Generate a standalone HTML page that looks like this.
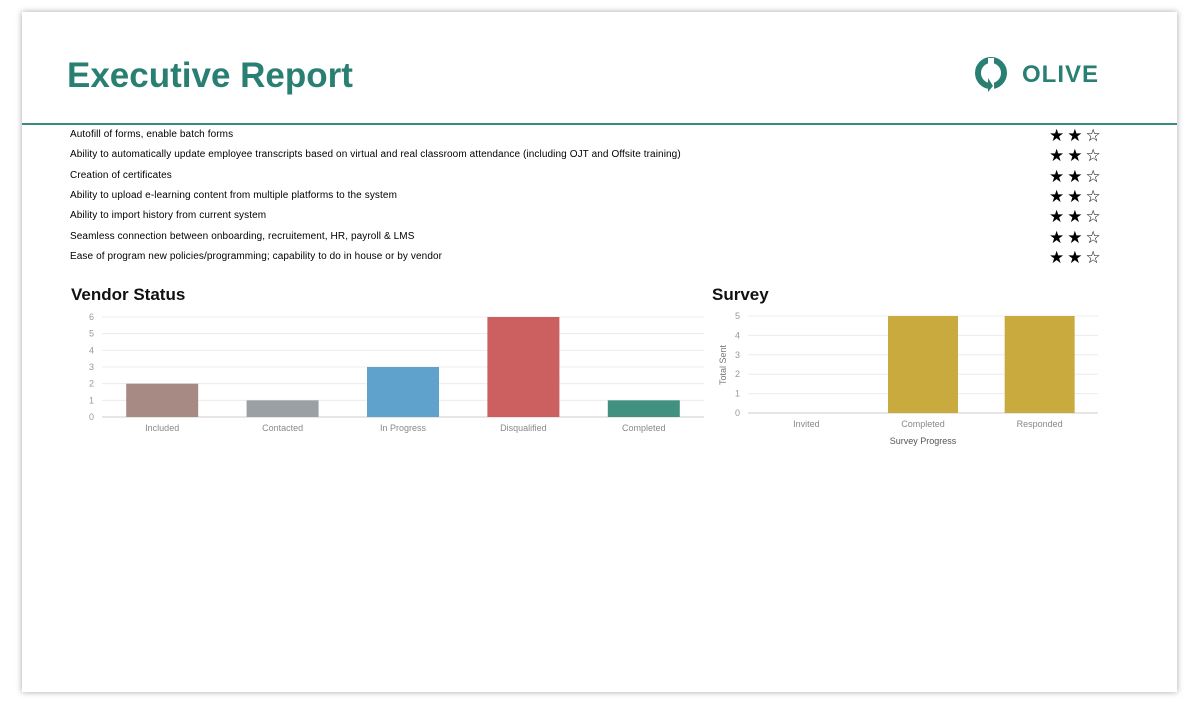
<!DOCTYPE html>
<html><head><meta charset="utf-8"><style>
body{margin:0;width:1200px;height:705px;background:#fff;font-family:"Liberation Sans",sans-serif;position:relative;overflow:hidden}
.card{position:absolute;left:22px;top:12px;width:1155px;height:680px;background:#fff;box-shadow:0 0 6px rgba(0,0,0,.35)}
h1{position:absolute;left:67px;top:56px;margin:0;font-size:35px;color:#2a7f73;font-weight:bold}
.hr{position:absolute;left:22px;top:123px;width:1155px;height:2px;background:#3a8a80}
.row{position:absolute;left:70px;font-size:10px;color:#000;letter-spacing:0.1px}
.stars{position:absolute;left:1049px;font-size:17px;letter-spacing:3px;line-height:17px}
.ct{position:absolute;font-size:17px;font-weight:bold;color:#111}
</style></head><body>
<div class="card"></div>
<h1>Executive Report</h1>
<div style="position:absolute;left:974px;top:56px">
<svg width="140" height="38"><circle cx="17" cy="17" r="13" fill="none" stroke="#2a7f73" stroke-width="6"/><rect x="14" y="2" width="6" height="34" fill="#fff"/><path d="M14 22 L14 36 L19 30Z" fill="#2a7f73"/><text x="48" y="26" font-family="Liberation Sans" font-weight="bold" font-size="24" fill="#2a7f73" letter-spacing="1">OLIVE</text></svg></div>
<div class="hr"></div>
<div id="rows"></div>
<div class="ct" style="left:71px;top:285px">Vendor Status</div>
<div class="ct" style="left:712px;top:285px">Survey</div>
<svg id="v" style="position:absolute;left:0;top:0" width="1200" height="705"></svg>
<script>
const features=["Autofill of forms, enable batch forms","Ability to automatically update employee transcripts based on virtual and real classroom attendance (including OJT and Offsite training)","Creation of certificates","Ability to upload e-learning content from multiple platforms to the system","Ability to import history from current system","Seamless connection between onboarding, recruitement, HR, payroll & LMS","Ease of program new policies/programming; capability to do in house or by vendor"];
const ratings=[2,2,2,2,2,2,2];
const vendorCats=["Included","Contacted","In Progress","Disqualified","Completed"];
const vendorVals=[2,1,3,6,1];
const vendorColors=["#a88a84","#9aa0a3","#5fa2cc","#cc5f5f","#42907f"];
const vendorTicks=[0,1,2,3,4,5,6];
const surveyCats=["Invited","Completed","Responded"];
const surveyVals=[0,5,5];
const surveyTicks=[0,1,2,3,4,5];
const R=document.getElementById('rows');
features.forEach((f,i)=>{const y=129+i*20.3;
const d=document.createElement('div');d.className='row';d.style.top=y+'px';d.textContent=f;

R.appendChild(d);
const s=document.createElement('div');s.className='stars';s.style.top=(y-2)+'px';s.textContent='★'.repeat(ratings[i])+'☆'.repeat(3-ratings[i]);

R.appendChild(s);});
const svg=document.getElementById('v');const NS='http://www.w3.org/2000/svg';
function el(t,a,name){const e=document.createElementNS(NS,t);for(const k in a)e.setAttribute(k,a[k]);

svg.appendChild(e);return e;}
function chart(cats,vals,ticks,colors,x0,x1,yb,yt,bw,name){
const max=ticks[ticks.length-1];const ys=v=>yb-(yb-yt)*v/max;const band=(x1-x0)/cats.length;
ticks.forEach(t=>{el('line',{x1:x0,x2:x1,y1:ys(t),y2:ys(t),stroke:t?'#ececec':'#ccc'},name+'-gridline');
const tx=el('text',{x:x0-8,y:ys(t)+3,'font-size':9,fill:'#999','text-anchor':'end'},name+'-y-tick');tx.textContent=t;});
cats.forEach((c,i)=>{const cx=x0+band*(i+.5);
if(vals[i]>0)el('rect',{x:cx-bw/2,y:ys(vals[i]),width:bw,height:yb-ys(vals[i]),fill:colors[i%colors.length]},name+'-bar');
const tx=el('text',{x:cx,y:yb+14,'font-size':9,fill:'#888','text-anchor':'middle'},name+'-x-label');tx.textContent=c;});}
chart(vendorCats,vendorVals,vendorTicks,vendorColors,102,704,417,317,72,'vendor');
chart(surveyCats,surveyVals,surveyTicks,["#c9aa3e"],748,1098,413,316,70,'survey');
let t=el('text',{x:923,y:444,'font-size':9,fill:'#555','text-anchor':'middle'},'survey-x-axis-title');t.textContent='Survey Progress';
t=el('text',{x:0,y:0,'font-size':9,fill:'#777','text-anchor':'middle',transform:'translate(726,365) rotate(-90)'},'survey-y-axis-title');t.textContent='Total Sent';
</script>
</body></html>
